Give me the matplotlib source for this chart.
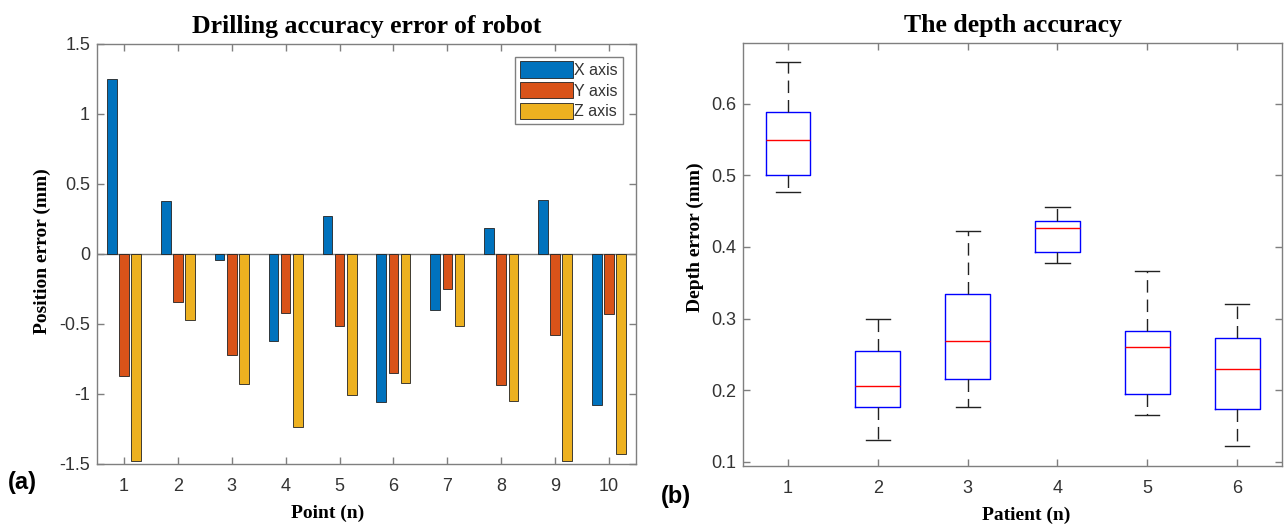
import matplotlib
matplotlib.use("Agg")
from matplotlib import pyplot as plt
import numpy as np

# ---- data ----
points = [1, 2, 3, 4, 5, 6, 7, 8, 9, 10]
x_err = [1.25, 0.381, -0.043, -0.619, 0.274, -1.06, -0.402, 0.183, 0.383, -1.079]
y_err = [-0.869, -0.345, -0.721, -0.421, -0.512, -0.85, -0.25, -0.936, -0.576, -0.429]
z_err = [-1.476, -0.469, -0.929, -1.238, -1.005, -0.924, -0.512, -1.048, -1.479, -1.426]
series_names = ["X axis", "Y axis", "Z axis"]

patients = [1, 2, 3, 4, 5, 6]
whisker_lo = [0.477, 0.130, 0.177, 0.377, 0.165, 0.122]
q1 = [0.501, 0.177, 0.215, 0.393, 0.194, 0.174]
medians = [0.549, 0.206, 0.268, 0.427, 0.260, 0.230]
q3 = [0.588, 0.255, 0.334, 0.436, 0.283, 0.273]
whisker_hi = [0.659, 0.300, 0.422, 0.456, 0.366, 0.321]

colors = ["#0072BD", "#D95319", "#EDB120"]
spine_gray = "#7f7f7f"
tick_color = "#333333"
serif = ["Liberation Serif", "DejaVu Serif"]
sans = ["Liberation Sans", "DejaVu Sans"]

plt.rcParams['font.family'] = sans

fig = plt.figure(figsize=(12.88, 5.25), dpi=100)
ax1 = fig.add_axes([0.0753, 0.1162, 0.4185, 0.8])
ax2 = fig.add_axes([0.5769, 0.1124, 0.4185, 0.8057])


def style_axes(ax):
    for s in ax.spines.values():
        s.set_color(spine_gray)
        s.set_linewidth(1.0)
    ax.tick_params(direction='in', length=5, width=1, color=spine_gray,
                   labelcolor=tick_color, labelsize=13,
                   top=True, right=True)
    ax.tick_params(axis='x', pad=10)
    ax.tick_params(axis='y', pad=5)


# ---- (a) grouped bars ----
xs = np.array(points)
offset = 0.225
width = 0.18
for k, vals in enumerate([x_err, y_err, z_err]):
    ax1.bar(xs + (k - 1) * offset, vals, width=width, color=colors[k],
            edgecolor="#222222", linewidth=0.6, label=series_names[k], zorder=3)
ax1.axhline(0, color=spine_gray, lw=1, zorder=2)
ax1.set_xlim(0.5, 10.5)
ax1.set_ylim(-1.5, 1.5)
ax1.set_xticks(points)
ax1.set_yticks([-1.5, -1, -0.5, 0, 0.5, 1, 1.5])
ax1.set_yticklabels(["-1.5", "-1", "-0.5", "0", "0.5", "1", "1.5"])
style_axes(ax1)
ax1.set_title("Drilling accuracy error of robot", family=serif, fontsize=18.5,
              fontweight='bold', pad=8)
ax1.set_xlabel("Point (n)", family=serif, fontsize=14, fontweight='bold',
               labelpad=7, x=0.427)
ax1.set_ylabel("Position error (mm)", family=serif, fontsize=14, fontweight='bold',
               labelpad=6, y=0.507)
leg = ax1.legend(loc='upper right', bbox_to_anchor=(0.975, 0.97), fontsize=11.5,
                 handlelength=3.3, handleheight=1.2, handletextpad=0.1,
                 labelspacing=0.25, borderpad=0.3, fancybox=False,
                 framealpha=1, edgecolor=spine_gray, borderaxespad=0)
leg.get_frame().set_linewidth(1.0)
for t in leg.get_texts():
    t.set_color(tick_color)

# ---- (b) box plot ----
stats = []
for i in range(len(patients)):
    stats.append(dict(med=medians[i], q1=q1[i], q3=q3[i],
                      whislo=whisker_lo[i], whishi=whisker_hi[i], fliers=[]))
ax2.bxp(stats, positions=patients, widths=0.5, capwidths=0.27, showfliers=False,
        boxprops=dict(color="#0000FF", lw=1.0),
        medianprops=dict(color="#FF0000", lw=1.0),
        whiskerprops=dict(color="#222222", lw=1.0, linestyle=(0, (9, 5))),
        capprops=dict(color="#222222", lw=1.0))
ax2.set_xlim(0.5, 6.5)
ax2.set_ylim(0.094, 0.685)
ax2.set_xticks(patients)
ax2.set_xticklabels([str(p) for p in patients])
ax2.set_yticks([0.1, 0.2, 0.3, 0.4, 0.5, 0.6])
style_axes(ax2)
ax2.set_title("The depth accuracy", family=serif, fontsize=18.5, fontweight='bold', pad=8)
ax2.set_xlabel("Patient (n)", family=serif, fontsize=14, fontweight='bold',
               labelpad=7, x=0.525)
ax2.set_ylabel("Depth error (mm)", family=serif, fontsize=14, fontweight='bold',
               labelpad=5, y=0.54)

fig.text(0.006, 0.08, "(a)", fontsize=17, fontweight='bold', va='center', ha='left')
fig.text(0.513, 0.055, "(b)", fontsize=17, fontweight='bold', va='center', ha='left')

fig.savefig("out.png", dpi=100)
